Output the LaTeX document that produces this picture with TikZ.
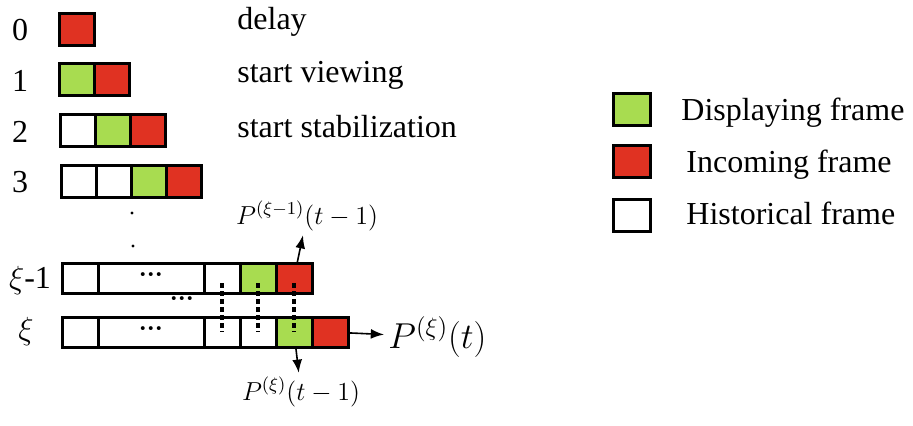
\RequirePackage{fix-cm}
\documentclass[tikz,border=0pt]{standalone}
\usepackage{fontspec}
\setmainfont{Liberation Serif}
\usepackage{tikz}
\usetikzlibrary{arrows.meta,calc,positioning}
\definecolor{DispGreen}{HTML}{A8DC50}
\definecolor{IncRed}{HTML}{E03222}

\begin{document}
\begin{tikzpicture}[x=.5pt,y=-.5pt,font=\fontsize{16}{19}\selectfont,
 >=Latex,every node/.style={inner sep=1pt}]
\tikzset{cell/.style={draw,line width=1.5pt,outer sep=0pt,inner sep=0pt,
  minimum width=17.5pt,minimum height=16pt,anchor=north west},
 hist/.style={cell,fill=white},
 disp/.style={cell,fill=DispGreen},
 inc/.style={cell,fill=IncRed},
 low/.style={minimum width=18pt,minimum height=15pt},
 wide/.style={minimum width=53pt,font=\fontsize{12}{14}\selectfont\bfseries},
 vdots/.style={line width=1.8pt,dash pattern=on 2.5pt off 1.5pt},
 mlabel/.style={font=\fontsize{13}{15}\selectfont,inner sep=2pt}}
\useasboundingbox (0,0) rectangle (913,425);
% rows 0--3
\node[anchor=base] (n0) at (20,40) {0};
\node[anchor=base] (n1) at (20,91) {1};
\node[anchor=base] (n2) at (20,142) {2};
\node[anchor=base] (n3) at (20,192) {3};
\node[inc] (r0a) at (59,13) {};
\node[disp] (r1a) at (59,63) {};
\node[inc,right=0pt of r1a] (r1b) {};
\node[hist] (r2a) at (60,114) {};
\node[disp,right=0pt of r2a] (r2b) {};
\node[inc,right=0pt of r2b] (r2c) {};
\node[hist] (r3a) at (61,165) {};
\node[hist,right=0pt of r3a] (r3b) {};
\node[disp,right=0pt of r3b] (r3c) {};
\node[inc,right=0pt of r3c] (r3d) {};
\node[anchor=base west] (t0) at (235,29) {delay};
\node[anchor=base west] (t1) at (235,82) {start viewing};
\node[anchor=base west] (t2) at (235,137) {start stabilization};
\fill (132,213) circle (1.6);
\fill (133,246) circle (1.6);
% rows xi-1 and xi
\node[anchor=base] (nb) at (30,288) {$\xi$-1};
\node[anchor=base] (nc) at (26,339) {$\xi$};
\node[hist,low] (b1) at (62,263) {};
\node[hist,low,wide,right=0pt of b1] (b2) {···};
\node[hist,low,right=0pt of b2] (b3) {};
\node[disp,low,right=0pt of b3] (b4) {};
\node[inc,low,right=0pt of b4] (b5) {};
\node[hist,low] (c1) at (62,317) {};
\node[hist,low,wide,right=0pt of c1] (c2) {···};
\node[hist,low,right=0pt of c2] (c3) {};
\node[hist,low,right=0pt of c3] (c4) {};
\node[disp,low,right=0pt of c4] (c5) {};
\node[inc,low,right=0pt of c5] (c6) {};
\node[font=\fontsize{12}{14}\selectfont\bfseries] (gap) at (182,302) {···};
\draw[vdots] ($(b3.center)+(0,5)$) -- (c3.center);
\draw[vdots] ($(b4.center)+(0,5)$) -- (c4.center);
\draw[vdots] ($(b5.center)+(0,5)$) -- (c5.center);
% outputs
\node[mlabel] (pb) at (307,216) {$P^{(\xi-1)}(t-1)$};
\node[mlabel,anchor=west,font=\fontsize{18}{21}\selectfont] (pt) at (384,337) {$P^{(\xi)}(t)$};
\node[mlabel] (pc) at (301,392) {$P^{(\xi)}(t-1)$};
\draw[->,line width=.8pt] (b5) -- (pb);
\draw[->,line width=.8pt] (c6) -- (pt);
\draw[->,line width=.8pt] (c5) -- (pc);
% legend
\node[disp,anchor=center,minimum width=18.5pt] (lg) at (632,109) {};
\node[inc,anchor=center,minimum width=18.5pt] (lr) at (632,161) {};
\node[hist,anchor=center,minimum width=18.5pt] (lw) at (632,215) {};
\node[anchor=base west] (tg) at (679,120) {Displaying frame};
\node[anchor=base west] (tr) at (684,172) {Incoming frame};
\node[anchor=base west] (tw) at (684,224) {Historical frame};
\end{tikzpicture}
\end{document}
